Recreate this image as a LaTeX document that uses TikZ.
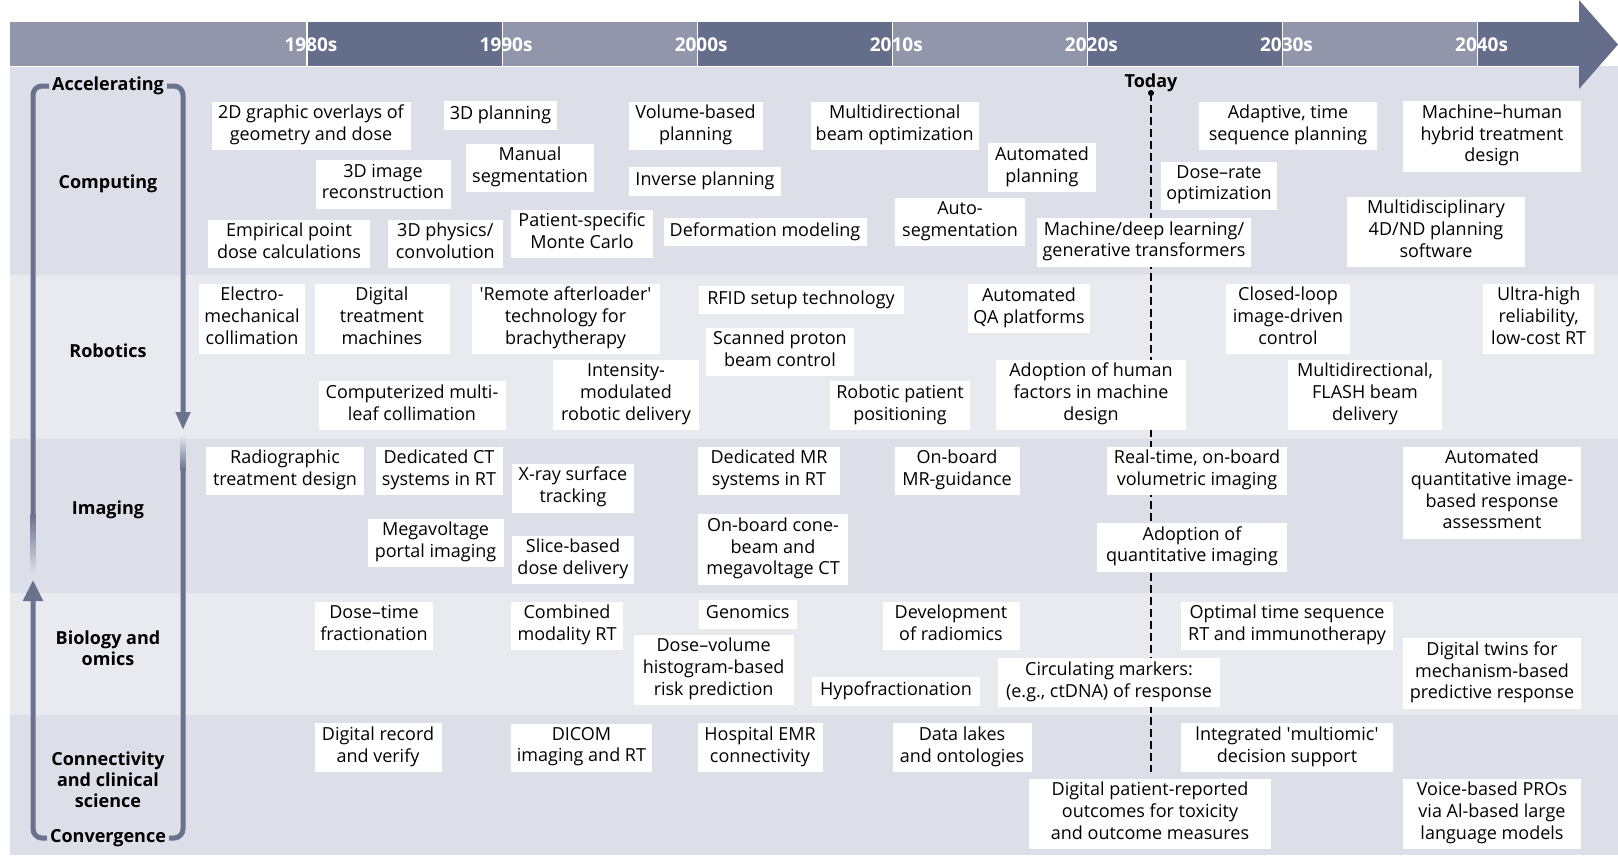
\documentclass[tikz,border=0pt]{standalone}
\usepackage{fontspec}
\setmainfont{Open Sans}
\usetikzlibrary{arrows.meta}

\definecolor{barlight}{HTML}{9196AB}
\definecolor{bardark}{HTML}{646D8A}
\definecolor{banddark}{HTML}{DCDFE8}
\definecolor{bandlight}{HTML}{E9EAF0}
\definecolor{loopcol}{HTML}{6A728E}

\newcommand{\boxfont}{\fontsize{18}{21.7}\selectfont}
\newcommand{\rowfont}{\fontsize{18}{21}\selectfont\bfseries}

\tikzset{
  item/.style={fill=white, align=center, font=\boxfont, inner xsep=5pt, inner ysep=3.5pt,
    minimum width=#1pt, execute at begin node=\strut, execute at end node=\strut},
  item/.default=10,
  rowlabel/.style={align=center, font=\rowfont, inner sep=0pt},
  decade/.style={text=white, font=\fontsize{19}{22}\selectfont\bfseries, inner sep=0pt},
  loopline/.style={draw=loopcol, line width=5pt, rounded corners=9pt},
  todayline/.style={draw=black, line width=1.8pt, dash pattern=on 8pt off 4pt},
}

\begin{document}
\begin{tikzpicture}[x=1pt,y=-1pt]
\useasboundingbox (0,0) rectangle (1618,855);

% Bands
\fill[banddark]  (10,66)  rectangle (1618,275);  % computing
\fill[bandlight] (10,275) rectangle (1618,439);  % robotics
\fill[banddark]  (10,439) rectangle (1618,593);  % imaging
\fill[bandlight] (10,593) rectangle (1618,715);  % biology
\fill[banddark]  (10,715) rectangle (1618,855);  % connectivity

% Time bar
\fill[barlight] (10,22) rectangle (1579,66);
\foreach \a/\b in {307/502, 697/893, 1088/1283, 1478/1580}
  \fill[bardark] (\a,22) rectangle (\b,66);
\fill[bardark] (1579,0) -- (1618,44.5) -- (1579,89) -- cycle;
\draw[white, line width=1.5pt] (10,66.5) -- (1579,66.5);
\foreach \yr [count=\i from 0] in {1980s,1990s,2000s,2010s,2020s,2030s,2040s}{
  \draw[white, line width=1.2pt] (307+195.1*\i,22) -- (307+195.1*\i,66);
  \node[decade] (d\i) at (311+195.1*\i,45) {\yr};
}

% Today
\node[rowlabel] (today) at (1151,83) {Today};
\coordinate (todaytop) at (1151,93);
\coordinate (todaybot) at (1151,772);
\draw[todayline] (todaytop) -- (todaybot);
\fill (todaytop) circle (3pt);

% Row labels
\node[rowlabel] (acc)  at (108,86)  {Accelerating};
\node[rowlabel] (comp) at (108,184) {Computing};
\node[rowlabel] (robo) at (108,351) {Robotics};
\node[rowlabel] (imag) at (108,510) {Imaging};
\node[rowlabel] (bio)  at (108,648) {Biology and\\omics};
\node[rowlabel] (conn) at (108,780) {Connectivity\\and clinical\\science};
\node[rowlabel] (conv) at (108,838) {Convergence};

% Loop
\draw[loopline] ([xshift=-3pt]acc.west) -| (33,515);
\shade[top color=loopcol, bottom color=banddark] (30.5,514) rectangle (35.5,573);
\draw[loopline, -{Triangle[length=21pt,width=19pt]}] ([xshift=-3pt]conv.west) -| (33,580);
\draw[loopline, -{Triangle[length=18pt,width=14pt]}] ([xshift=3pt]acc.east) -| (183,430);
\shade[top color=bandlight, bottom color=loopcol] (180.5,434) rectangle (185.5,470);
\draw[loopline] (183,469) |- ([xshift=3pt]conv.east);

% Computing
\node[item=199]   (overlay)    at (311,126)     {2D graphic overlays of\\geometry and dose};
\node[item=113.5] (plan3d)     at (500.5,115.6) {3D planning};
\node[item=134]   (volplan)    at (695.6,126)   {Volume-based\\planning};
\node[item=167]   (multibeam)  at (894.7,126)   {Multidirectional\\beam optimization};
\node[item=177.5] (adaptive)   at (1288,126)    {Adaptive, time\\sequence planning};
\node[item=177.5] (hybrid)     at (1492,136.7)  {Machine–human\\hybrid treatment\\design};
\node[item=135]   (recon3d)    at (383,184.7)   {3D image\\reconstruction};
\node[item=128]   (manseg)     at (530,168)     {Manual\\segmentation};
\node[item=152]   (invplan)    at (705,181.6)   {Inverse planning};
\node[item=108]   (autoplan)   at (1042,167.7)  {Automated\\planning};
\node[item=115.6] (doserate)   at (1219,185.8)  {Dose–rate\\optimization};
\node[item=162]   (empirical)  at (289,244)     {Empirical point\\dose calculations};
\node[item=114.5] (physics3d)  at (445.3,244)   {3D physics/\\convolution};
\node[item=141.7] (montecarlo) at (582,234)     {Patient-specific\\Monte Carlo};
\node[item=203]   (deform)     at (765,232)     {Deformation modeling};
\node[item=130]   (autoseg)    at (960,222)     {Auto-\\segmentation};
\node[item=213.6] (deeplearn)  at (1144,242.5)  {Machine/deep learning/\\generative transformers};
\node[item=178.5] (multidisc)  at (1436,232)    {Multidisciplinary\\4D/ND planning\\software};

% Robotics
\node[item=106]   (electro)    at (252,319)     {Electro-\\mechanical\\collimation};
\node[item=135]   (digital)    at (382,319)     {Digital\\treatment\\machines};
\node[item=188]   (afterload)  at (565.5,319)   {\textquotesingle Remote afterloader\textquotesingle\\technology for\\brachytherapy};
\node[item=205]   (rfid)       at (801,300)     {RFID setup technology};
\node[item=122]   (autoqa)     at (1029,308.6)  {Automated\\QA platforms};
\node[item=124]   (closedloop) at (1288,319)    {Closed-loop\\image-driven\\control};
\node[item=111.5] (ultrahigh)  at (1538.7,319)  {Ultra-high\\reliability,\\low-cost RT};
\node[item=148.6] (proton)     at (780,352)     {Scanned proton\\beam control};
\node[item=187]   (mlc)        at (412,405.6)   {Computerized multi-\\leaf collimation};
\node[item=145.5] (imrt)       at (626,395)     {Intensity-\\modulated\\robotic delivery};
\node[item=140]   (robopos)    at (900,405.6)   {Robotic patient\\positioning};
\node[item=190]   (humanfac)   at (1091,395)    {Adoption of human\\factors in machine\\design};
\node[item=154]   (flash)      at (1365,395)    {Multidirectional,\\FLASH beam\\delivery};

% Imaging
\node[item=158]   (radio)      at (285,471)     {Radiographic\\treatment design};
\node[item=127]   (dedct)      at (439,471)     {Dedicated CT\\systems in RT};
\node[item=122]   (xray)       at (573,488)     {X-ray surface\\tracking};
\node[item=142]   (dedmr)      at (769,471)     {Dedicated MR\\systems in RT};
\node[item=125]   (mrguide)    at (957,471)     {On-board\\MR-guidance};
\node[item=179.6] (realtime)   at (1197,471)    {Real-time, on-board\\volumetric imaging};
\node[item=178.5] (quantresp)  at (1492,492.8)  {Automated\\quantitative image-\\based response\\assessment};
\node[item=136]   (mvportal)   at (435.5,543)   {Megavoltage\\portal imaging};
\node[item=122]   (slice)      at (573,560)     {Slice-based\\dose delivery};
\node[item=150.7] (conebeam)   at (773,549.5)   {On-board cone-\\beam and\\megavoltage CT};
\node[item=190]   (quantimg)   at (1192,547.5)  {Adoption of\\quantitative imaging};

% Biology and omics
\node[item=118.7] (dosetime)   at (374,626)     {Dose–time\\fractionation};
\node[item=112.5] (combined)   at (567,626)     {Combined\\modality RT};
\node[item=98]    (genomics)   at (747.7,614.5) {Genomics};
\node[item=137]   (radiomics)  at (951,626)     {Development\\of radiomics};
\node[item=211.6] (immuno)     at (1287,626)    {Optimal time sequence\\RT and immunotherapy};
\node[item=160]   (dvh)        at (713.6,670)   {Dose–volume\\histogram-based\\risk prediction};
\node[item=168]   (hypofrac)   at (896,691.4)   {Hypofractionation};
\node[item=222]   (ctdna)      at (1109,682.7)  {Circulating markers:\\(e.g., ctDNA) of response};
\node[item=178.5] (twins)      at (1492,673.4)  {Digital twins for\\mechanism-based\\predictive response};

% Connectivity and clinical science
\node[item=127]   (recverify)  at (378,747.7)   {Digital record\\and verify};
\node[item=141]   (dicom)      at (581.5,747.7) {DICOM\\imaging and RT};
\node[item=125]   (emr)        at (760,747.7)   {Hospital EMR\\connectivity};
\node[item=139]   (datalakes)  at (962,747.7)   {Data lakes\\and ontologies};
\node[item=211.6] (multiomic)  at (1287,747.7)  {lntegrated \textquotesingle multiomic\textquotesingle\\decision support};
\node[item=242.5] (pro)        at (1150,814)    {Digital patient-reported\\outcomes for toxicity\\and outcome measures};
\node[item=178.5] (voice)      at (1492,814)    {Voice-based PROs\\via Al-based large\\language models};

\end{tikzpicture}
\end{document}
